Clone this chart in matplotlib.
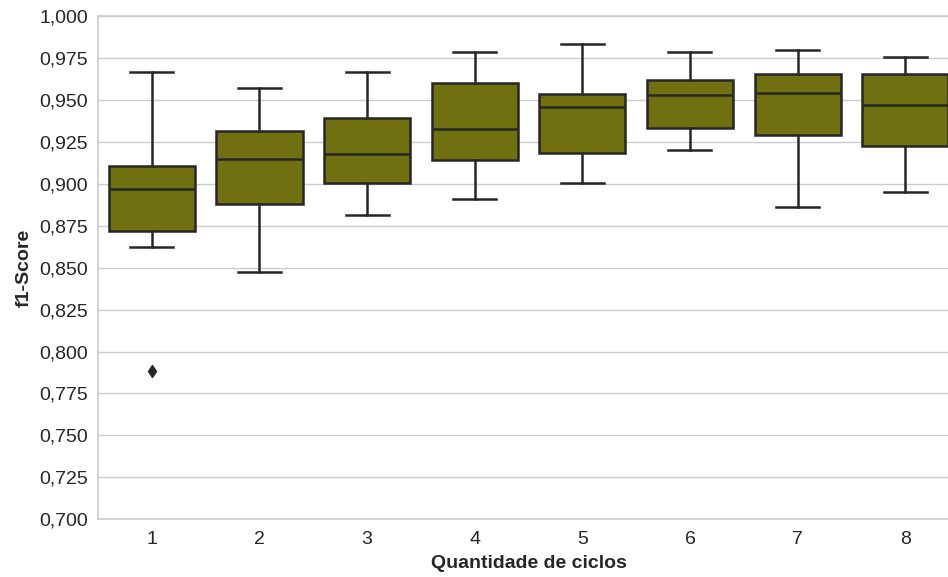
import numpy as np
import matplotlib
matplotlib.use("Agg")
import matplotlib.pyplot as plt
from matplotlib.ticker import FuncFormatter, MultipleLocator

# box statistics
ciclos = [1, 2, 3, 4, 5, 6, 7, 8]
whis_lo = [0.8621, 0.8474, 0.8812, 0.8909, 0.9004, 0.9199, 0.8859, 0.8951]
q1 = [0.8720, 0.8881, 0.9002, 0.9143, 0.9181, 0.9330, 0.9292, 0.9225]
mediana = [0.8967, 0.9145, 0.9177, 0.9328, 0.9457, 0.9530, 0.9539, 0.9467]
q3 = [0.9107, 0.9314, 0.9393, 0.9598, 0.9536, 0.9620, 0.9656, 0.9654]
whis_hi = [0.9667, 0.9569, 0.9666, 0.9785, 0.9831, 0.9787, 0.9795, 0.9753]
outliers = [[0.7882], [], [], [], [], [], [], []]

plt.rcParams['font.family'] = ['Liberation Sans', 'DejaVu Sans']

stats = []
for i in range(len(ciclos)):
    stats.append({'label': str(ciclos[i]), 'whislo': whis_lo[i], 'q1': q1[i],
                  'med': mediana[i], 'q3': q3[i], 'whishi': whis_hi[i],
                  'fliers': outliers[i]})

fig = plt.figure(figsize=(9.48, 5.77), dpi=100)
ax = fig.add_axes([0.1034, 0.1000, 0.9082, 0.8724])

gray = '#262626'
lw = 1.8
ax.bxp(stats, positions=range(len(ciclos)), widths=0.8, patch_artist=True,
       capwidths=0.4,
       boxprops=dict(facecolor='#707010', edgecolor=gray, linewidth=lw),
       medianprops=dict(color=gray, linewidth=lw),
       whiskerprops=dict(color=gray, linewidth=lw),
       capprops=dict(color=gray, linewidth=lw),
       flierprops=dict(marker='d', markerfacecolor=gray, markeredgecolor=gray,
                       markersize=6, linestyle='none'))

ax.set_xlim(-0.5, len(ciclos) - 0.5)
ax.set_ylim(0.7, 1.0)
ax.yaxis.set_major_locator(MultipleLocator(0.025))
ax.yaxis.set_major_formatter(FuncFormatter(lambda v, p: f"{v:.3f}".replace('.', ',')))
ax.set_axisbelow(True)
ax.yaxis.grid(True, color='#cccccc', linewidth=1)
ax.xaxis.grid(False)
for s in ax.spines.values():
    s.set_color('#cccccc')
    s.set_linewidth(1.2)
ax.tick_params(axis='both', length=0, labelsize=14, labelcolor='#262626', pad=7)
ax.tick_params(axis='x', pad=8.5)

ax.set_xlabel('Quantidade de ciclos', fontsize=14, fontweight='bold', color='#262626', labelpad=5)
ax.set_ylabel('f1-Score', fontsize=14, fontweight='bold', color='#262626', labelpad=5)

fig.savefig('out.png', dpi=100)
